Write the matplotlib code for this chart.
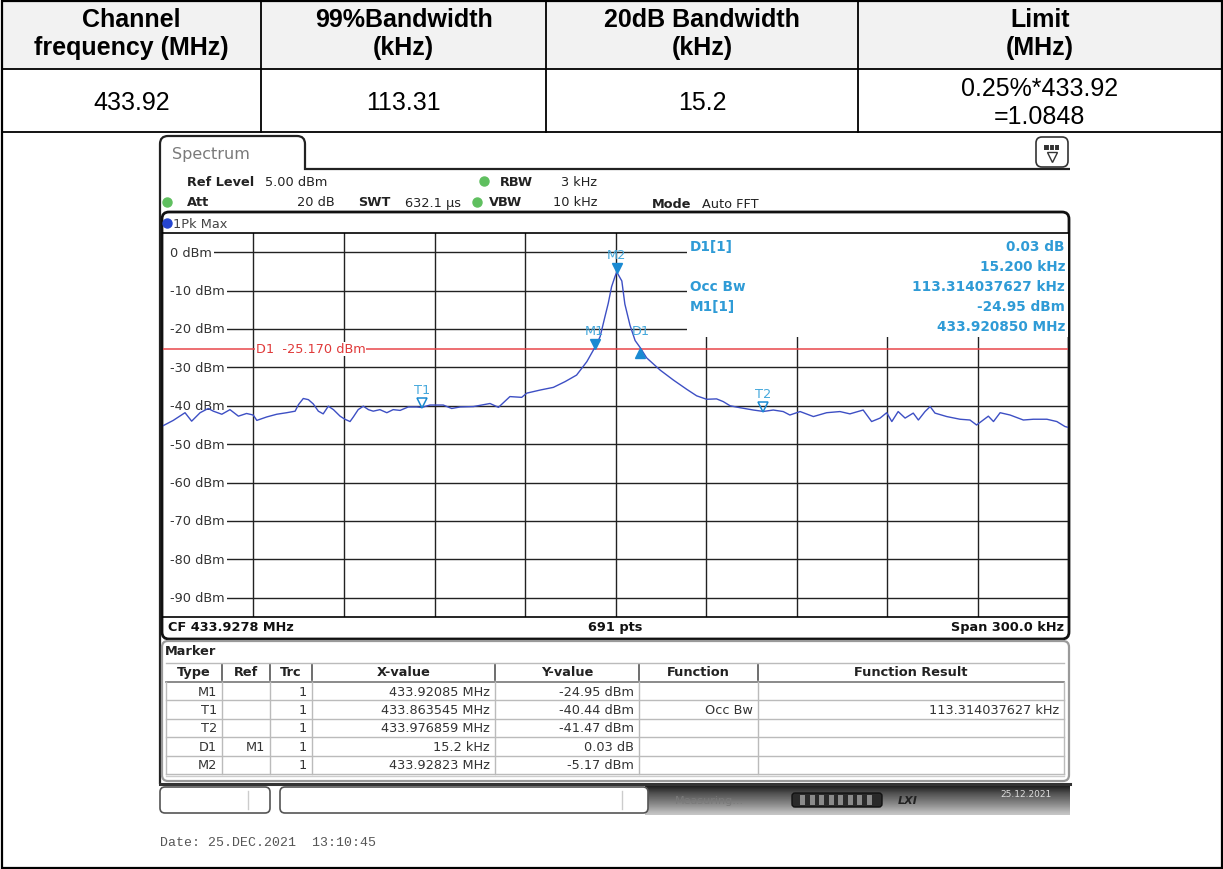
import numpy as np
import matplotlib
matplotlib.use('Agg')
import matplotlib.pyplot as plt
from matplotlib.patches import Rectangle, FancyBboxPatch, PathPatch
from matplotlib.path import Path
from matplotlib import transforms

# summary table above the screenshot
headers = ['Channel\nfrequency (MHz)', '99%Bandwidth\n(kHz)', '20dB Bandwidth\n(kHz)', 'Limit\n(MHz)']
row_vals = ['433.92', '113.31', '15.2', '0.25%*433.92\n=1.0848']

# analyzer settings
cf_mhz = 433.9278
span_khz = 300.0
ref_level = 5.0
n_pts = 691
d1_line = -25.17

# trace: offset from CF (kHz) and level (dBm)
freq_khz = [-150.0, -146.6, -142.7, -140.5, -137.7, -135.0, -133.3, -130.5, -127.8, -125.0,
            -122.3, -120.1, -118.9, -115.6, -112.3, -109.0, -106.2, -105.1, -103.5, -101.8,
            -100.2, -98.5, -96.9, -95.2, -93.5, -91.3, -89.7, -88.0, -86.9, -85.3,
            -83.6, -81.9, -80.3, -78.1, -75.8, -73.7, -71.4, -68.7, -65.9, -64.255,
            -61.5, -57.1, -54.3, -51.5, -47.1, -41.6, -38.8, -35.0, -31.1, -29.4,
            -25.0, -20.6, -16.7, -12.9, -9.5, -6.95, -5.1, -3.5, -2.4, -1.3,
            -0.2, 0.43, 2.1, 3.1, 4.8, 6.5, 8.25, 10.3, 14.8, 19.2,
            23.6, 26.9, 30.2, 33.5, 35.7, 38.0, 41.3, 45.7, 49.059, 52.3,
            55.6, 57.8, 61.2, 65.6, 70.0, 74.4, 77.7, 82.1, 84.9, 87.7,
            89.9, 91.6, 93.7, 96.0, 98.7, 100.4, 102.6, 104.3, 105.9, 109.8,
            114.2, 117.5, 119.7, 121.9, 123.6, 125.3, 127.5, 130.8, 135.2, 138.5,
            143.0, 146.3, 149.0, 150.0]
level_dbm = [-45.2, -43.8, -41.8, -44.0, -41.8, -40.7, -41.4, -42.2, -41.0, -42.7,
             -42.0, -42.4, -43.8, -42.9, -42.2, -41.8, -41.4, -39.7, -38.1, -38.4,
             -39.5, -41.4, -42.1, -40.1, -41.0, -42.7, -43.5, -44.1, -42.9, -41.0,
             -40.1, -41.0, -41.4, -41.0, -41.8, -41.0, -41.2, -40.3, -40.3, -40.44,
             -39.8, -39.8, -40.7, -40.3, -40.2, -39.4, -40.4, -37.6, -37.8, -36.7,
             -35.9, -35.2, -33.7, -32.0, -28.5, -24.95, -22.0, -16.8, -13.3, -9.0,
             -6.4, -5.17, -7.5, -13.5, -19.0, -23.0, -24.92, -27.5, -30.7, -33.3,
             -35.7, -37.4, -38.3, -38.2, -38.9, -40.0, -40.5, -41.1, -41.47, -41.1,
             -41.5, -42.4, -41.5, -42.8, -41.8, -41.5, -42.1, -41.1, -44.1, -43.2,
             -41.8, -44.1, -41.5, -43.2, -41.9, -43.7, -41.5, -40.2, -41.9, -42.8,
             -43.5, -43.7, -45.0, -43.7, -42.7, -44.1, -41.8, -42.4, -43.7, -43.5,
             -43.5, -44.1, -45.4, -45.6]

# markers
mk_type = ['M1', 'T1', 'T2', 'D1', 'M2']
mk_ref = ['', '', '', 'M1', '']
mk_trc = ['1', '1', '1', '1', '1']
mk_freq = [433.92085, 433.863545, 433.976859, 433.93605, 433.92823]
mk_level = [-24.95, -40.44, -41.47, -24.92, -5.17]
mk_xtxt = ['433.92085 MHz', '433.863545 MHz', '433.976859 MHz', '15.2 kHz', '433.92823 MHz']
mk_ytxt = ['-24.95 dBm', '-40.44 dBm', '-41.47 dBm', '0.03 dB', '-5.17 dBm']
mk_func = ['', 'Occ Bw', '', '', '']
mk_result = ['', '113.314037627 kHz', '', '', '']

# marker info block in the upper right of the diagram
info_left = ['D1[1]', '', 'Occ Bw', 'M1[1]', '']
info_right = ['0.03 dB', '15.200 kHz', '113.314037627 kHz', '-24.95 dBm', '433.920850 MHz']

W, H = 1223, 870
fig = plt.figure(figsize=(W / 100, H / 100), dpi=100)
bg = fig.add_axes([0, 0, 1, 1])
bg.set_xlim(0, W)
bg.set_ylim(H, 0)
bg.axis('off')

SCR = 'DejaVu Sans'
blue_txt = '#2f9bd6'
blue_mk = '#1a8ad2'

# ---- summary table ----
cols = [1.5, 261, 546, 858, 1221.5]
bg.add_patch(Rectangle((1.5, 1.5), W - 3, 68.5, facecolor='#f2f2f2', edgecolor='none'))
bg.add_patch(Rectangle((1.5, 1.5), W - 3, H - 3, facecolor='none', edgecolor='black', lw=1.6))
for yy in [70, 133]:
    bg.plot([1.5, W - 1.5], [yy, yy], color='black', lw=1.3)
for xx in cols[1:-1]:
    bg.plot([xx, xx], [1.5, 133], color='black', lw=1.3)
for i in range(4):
    cx = (cols[i] + cols[i + 1]) / 2
    bg.text(cx, 34, headers[i], ha='center', va='center', fontsize=18, fontweight='bold',
            family='Liberation Sans', linespacing=1.17)
    bg.text(cx, 103, row_vals[i], ha='center', va='center', fontsize=18,
            family='Liberation Sans', linespacing=1.22)

# ---- screenshot frame ----
P = Path
tab = Path([(160, 785), (160, 145), (160, 137), (168, 137), (297, 137), (305, 137), (305, 145),
            (305, 170), (1070, 170)],
           [P.MOVETO, P.LINETO, P.CURVE3, P.CURVE3, P.LINETO, P.CURVE3, P.CURVE3, P.LINETO, P.LINETO])
bg.add_patch(PathPatch(tab, facecolor='none', edgecolor='#222222', lw=1.6))
bg.text(172, 154, 'Spectrum', fontsize=11.5, color='#7a7a7a', va='center', family=SCR)
bg.add_patch(FancyBboxPatch((1036, 138), 32, 30, boxstyle='round,pad=0,rounding_size=6',
                            facecolor='white', edgecolor='#333333', lw=1.2))
bg.add_patch(Rectangle((1044, 146), 15, 5, facecolor='#333333', edgecolor='none'))
bg.plot([1048.5, 1048.5], [146, 151], color='white', lw=0.8)
bg.plot([1053.5, 1053.5], [146, 151], color='white', lw=0.8)
bg.plot([1051.5], [158], marker='v', ms=7, mfc='white', mec='#333333', mew=1)

# settings lines
def t(x, y, s, bold=False, **kw):
    bg.text(x, y, s, fontsize=9.3, family=SCR, va='center',
            fontweight='bold' if bold else 'normal', color=kw.pop('color', '#222222'), **kw)

green = '#5fbf5f'
t(187, 182, 'Ref Level', True)
t(265, 182, '%.2f dBm' % ref_level)
bg.plot(484, 182, 'o', ms=6.5, color=green)
t(500, 182, 'RBW', True)
t(597, 182, '3 kHz', ha='right')
bg.plot(167, 203, 'o', ms=6.5, color=green)
t(187, 203, 'Att', True)
t(335, 203, '20 dB', ha='right')
t(358, 203, 'SWT', True)
t(405, 203, '632.1 µs')
bg.plot(477, 203, 'o', ms=6.5, color=green)
t(489, 203, 'VBW', True)
t(597, 203, '10 kHz', ha='right')
t(652, 205, 'Mode', True)
t(702, 205, 'Auto FFT')

# diagram panel
bg.add_patch(FancyBboxPatch((162, 213), 907, 427, boxstyle='round,pad=0,rounding_size=7',
                            facecolor='white', edgecolor='#111111', lw=2.0, zorder=1))
bg.plot(167, 224, 'o', ms=6.5, color='#2545d0')
t(173, 224, '1Pk Max', color='#444444')
t(168, 628, 'CF %.4f MHz' % cf_mhz, True, color='#111111')
t(615, 628, '%d pts' % n_pts, True, ha='center', color='#111111')
t(1064, 628, 'Span %.1f kHz' % span_khz, True, ha='right', color='#111111')

# ---- marker table ----
bg.add_patch(FancyBboxPatch((162, 642), 907, 140, boxstyle='round,pad=0,rounding_size=6',
                            facecolor='white', edgecolor='#9a9a9a', lw=1.6, zorder=1))
t(165, 652, 'Marker', True)
tcols = [166, 222, 270, 312, 495, 639, 758, 1064]
tt, tb = 664, 683
rh = 18.4
bg.plot([166, 1064], [tt, tt], color='#bbbbbb', lw=1)
bg.plot([166, 1064], [tb, tb], color='#777777', lw=1.2)
for xx in tcols[1:-1]:
    bg.plot([xx, xx], [tt + 2, tb - 2], color='#555555', lw=1.2)
for xx in tcols:
    bg.plot([xx, xx], [tb, tb + 5 * rh], color='#bbbbbb', lw=1)
for r in range(1, 6):
    bg.plot([166, 1064], [tb + r * rh] * 2, color='#bbbbbb', lw=1)
bg.plot([166, 1064], [tb + 5 * rh + 1.5] * 2, color='#cccccc', lw=1)
tnames = ['Type', 'Ref', 'Trc', 'X-value', 'Y-value', 'Function', 'Function Result']
for i, nm in enumerate(tnames):
    t((tcols[i] + tcols[i + 1]) / 2, 673, nm, True, ha='center')
cells = [mk_type, mk_ref, mk_trc, mk_xtxt, mk_ytxt, mk_func, mk_result]
for r in range(5):
    yy = tb + (r + 0.5) * rh
    for c in range(7):
        if cells[c][r]:
            t(tcols[c + 1] - 5, yy, cells[c][r], ha='right', color='#333333')

# status bar
bg.plot([160, 1070], [785, 785], color='#333333', lw=2.2)
grad = np.linspace(0, 1, 40).reshape(-1, 1)
bg.imshow(grad, extent=(645, 1070, 816, 787), cmap='Greys_r', vmin=-0.2, vmax=1.6,
          aspect='auto', zorder=1)
bg.add_patch(FancyBboxPatch((160, 788), 110, 26, boxstyle='round,pad=0,rounding_size=5',
                            facecolor='white', edgecolor='#555555', lw=1.2, zorder=2))
bg.add_patch(FancyBboxPatch((280, 788), 368, 26, boxstyle='round,pad=0,rounding_size=5',
                            facecolor='white', edgecolor='#555555', lw=1.2, zorder=2))
bg.plot([248, 248], [792, 810], color='#cccccc', lw=1, zorder=3)
bg.plot([622, 622], [792, 810], color='#cccccc', lw=1, zorder=3)
bg.text(675, 801, 'Measuring...', fontsize=8, color='#7a7a7a', va='center', zorder=3, family=SCR)
bg.add_patch(FancyBboxPatch((792, 794), 90, 14, boxstyle='round,pad=0,rounding_size=3',
                            facecolor='#2a2a2a', edgecolor='#111111', lw=1, zorder=3))
for k in range(8):
    bg.add_patch(Rectangle((800 + k * 9.5, 796), 5, 10, facecolor='#8a8a8a', edgecolor='none', zorder=4))
bg.text(898, 801, 'LXI', fontsize=8, style='italic', fontweight='bold', color='#222222',
        va='center', zorder=3, family=SCR)
bg.text(1000, 795, '25.12.2021', fontsize=6.5, color='#dddddd', va='center', zorder=3, family=SCR)

bg.text(160, 843, 'Date: 25.DEC.2021  13:10:45', fontsize=9.5, family='Liberation Mono',
        color='#555555', va='center')

# ---- spectrum diagram ----
ax = fig.add_axes([163 / W, 1 - 618 / H, 905 / W, 384 / H], zorder=2)
ax.set_facecolor('none')
ax.set_xlim(-span_khz / 2, span_khz / 2)
ax.set_ylim(ref_level - 100, ref_level)
ax.set_xticks([])
ax.set_yticks([])
for s in ['left', 'right']:
    ax.spines[s].set_visible(False)
ax.spines['top'].set_linewidth(1.2)
ax.spines['bottom'].set_linewidth(1.2)

for gx in np.arange(-120, 121, 30):
    ax.axvline(gx, color='#222222', lw=1.0, zorder=1)
for gy in np.arange(0, -91, -10):
    # level lines start behind the label, so nothing shows left of it
    ax.plot([-140, span_khz / 2], [gy, gy], color='#222222', lw=1.0, zorder=1)
    ax.text(-147.6, gy, '%d dBm' % gy, fontsize=9.3, family=SCR, color='#333333', va='center',
            bbox=dict(facecolor='white', edgecolor='none', pad=1.5), zorder=2)
# blank area behind the marker info block
ax.add_patch(Rectangle((23.7, -22.2), 127, 30, facecolor='white', edgecolor='none', zorder=2))
for i in range(5):
    yy = 247 + i * 20
    if info_left[i]:
        ax.text(690, yy, info_left[i], fontsize=9.8, family=SCR, fontweight='bold',
                color=blue_txt, va='center', zorder=6, transform=bg.transData)
    ax.text(1065, yy, info_right[i], fontsize=9.8, family=SCR, fontweight='bold',
            color=blue_txt, va='center', ha='right', zorder=6, transform=bg.transData)

ax.axhline(d1_line, color='#e8474a', lw=1.1, zorder=2)
ax.text(-119.2, d1_line, 'D1  %.3f dBm' % d1_line, fontsize=9.3, family=SCR, color='#e03a3a',
        va='center', bbox=dict(facecolor='white', edgecolor='none', pad=0.5), zorder=3)

ax.plot(freq_khz, level_dbm, color='#3d4fc4', lw=1.0, zorder=4)

up = transforms.offset_copy(ax.transData, fig=fig, x=0, y=3, units='points')
lab = transforms.offset_copy(ax.transData, fig=fig, x=0, y=8, units='points')
dn = transforms.offset_copy(ax.transData, fig=fig, x=0, y=-3.5, units='points')
for nm, f, lv in zip(mk_type, mk_freq, mk_level):
    x = (f - cf_mhz) * 1000
    if nm.startswith('M'):
        ax.plot(x, lv, marker='v', ms=7, color=blue_mk, transform=up, zorder=5)
    elif nm.startswith('T'):
        ax.plot(x, lv, marker='v', ms=7, mfc='none', mec=blue_mk, mew=1.1, transform=up, zorder=5)
    else:
        ax.plot(x, lv, marker='^', ms=7, color=blue_mk, transform=dn, zorder=5)
    ax.text(x, lv, nm, transform=lab, ha='center', va='bottom', fontsize=9.3, family=SCR,
            color='#45a8dc', zorder=5)

fig.savefig('out.png', dpi=100)
